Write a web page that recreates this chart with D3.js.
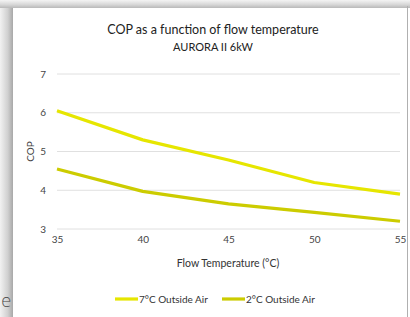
<!DOCTYPE html>
<html><head><meta charset="utf-8">
<script src="https://cdn.jsdelivr.net/npm/d3@7"></script>
<style>
html,body{margin:0;padding:0;background:#fff;overflow:hidden;}
#wrap{position:relative;width:410px;height:317px;background:#fff;}
#shadowL{position:absolute;left:0;top:0;width:13px;height:317px;background:linear-gradient(to right,#f2f2f2,#d0d0d0 60%,#a8a8a8);}
#shadowT{position:absolute;left:0;top:0;width:410px;height:8px;background:linear-gradient(to bottom,#f4f4f4,#d6d6d6 60%,#b8b8b8);}
#edgeR{position:absolute;left:407px;top:6px;width:1px;height:311px;background:#b0b0b0;}
svg{position:absolute;left:0;top:0;}
</style></head>
<body><div id="wrap"><div id="shadowL"></div><div id="shadowT"></div><div id="edgeR"></div><svg id="chart" width="410" height="317"></svg></div>
<script>
const categories = [35, 40, 45, 50, 55];
const series7 = [6.05, 5.3, 4.78, 4.2, 3.9];
const series2 = [4.55, 3.97, 3.65, 3.43, 3.2];
const seriesNames = ["7\u00B0C Outside Air", "2\u00B0C Outside Air"];
const yTicks = [3, 4, 5, 6, 7];
const titleText = "COP as a function of flow temperature";
const subtitleText = "AURORA II 6kW";
const xTitle = "Flow Temperature (\u00B0C)";
const yTitle = "COP";

const svg = d3.select("#chart");
svg.append("rect").attr("x",13).attr("y",8).attr("width",394).attr("height",309).attr("fill","#fff");
const font = "Lato, 'Open Sans', sans-serif";
const x = d3.scaleLinear().domain([35,55]).range([57,400]);
const y = d3.scaleLinear().domain([3,7]).range([229,74]);

svg.append("text").attr("x",213).attr("y",34).attr("text-anchor","middle")
  .attr("font-family",font).attr("font-size",12.5).attr("fill","#222").text(titleText);
svg.append("text").attr("x",213).attr("y",51).attr("text-anchor","middle")
  .attr("font-family",font).attr("font-size",11).attr("fill","#222").text(subtitleText);

// grid
svg.append("g").selectAll("line").data(yTicks).join("line")
  .attr("x1",x(35)).attr("x2",x(55)).attr("y1",d=>y(d)).attr("y2",d=>y(d))
  .attr("stroke","#e0e0e0").attr("stroke-width",1);

const yAxis = svg.append("g").attr("transform",`translate(${x(35)},0)`)
  .call(d3.axisLeft(y).tickValues(yTicks).tickFormat(d3.format("d")).tickSize(0).tickPadding(11));
yAxis.select(".domain").remove();
yAxis.selectAll("text").attr("font-family",font).attr("font-size",10).attr("fill","#444");

const xAxis = svg.append("g").attr("transform",`translate(0,${y(3)})`)
  .call(d3.axisBottom(x).tickValues(categories).tickFormat(d3.format("d")).tickSize(0).tickPadding(7));
xAxis.select(".domain").remove();
xAxis.selectAll("text").attr("font-family",font).attr("font-size",10).attr("fill","#444");

svg.append("text").attr("transform",`translate(34,${y(5)}) rotate(-90)`).attr("text-anchor","middle")
  .attr("font-family",font).attr("font-size",10).attr("fill","#444").text(yTitle);
svg.append("text").attr("x",228).attr("y",267).attr("text-anchor","middle")
  .attr("font-family",font).attr("font-size",10.5).attr("fill","#333").text(xTitle);

const colors = ["#e6e600", "#cccc00"];
const line = d3.line().x((d,i)=>x(categories[i])).y(d=>y(d));
[series7, series2].forEach((s,i)=>{
  svg.append("path").attr("d",line(s)).attr("fill","none")
    .attr("stroke",colors[i]).attr("stroke-width",3.2).attr("stroke-linejoin","round");
});

// legend
const legX = [115, 222];
seriesNames.forEach((n,i)=>{
  svg.append("line").attr("x1",legX[i]).attr("x2",legX[i]+23).attr("y1",299).attr("y2",299)
    .attr("stroke",colors[i]).attr("stroke-width",3.2);
  svg.append("text").attr("x",legX[i]+24).attr("y",302.5).attr("font-family",font)
    .attr("font-size",10).attr("fill","#333").text(n);
});

svg.append("text").attr("x",1).attr("y",307).attr("font-family","'DejaVu Sans', sans-serif")
  .attr("font-weight",200).attr("font-size",17).attr("fill","#444").text("e");
</script></body></html>
